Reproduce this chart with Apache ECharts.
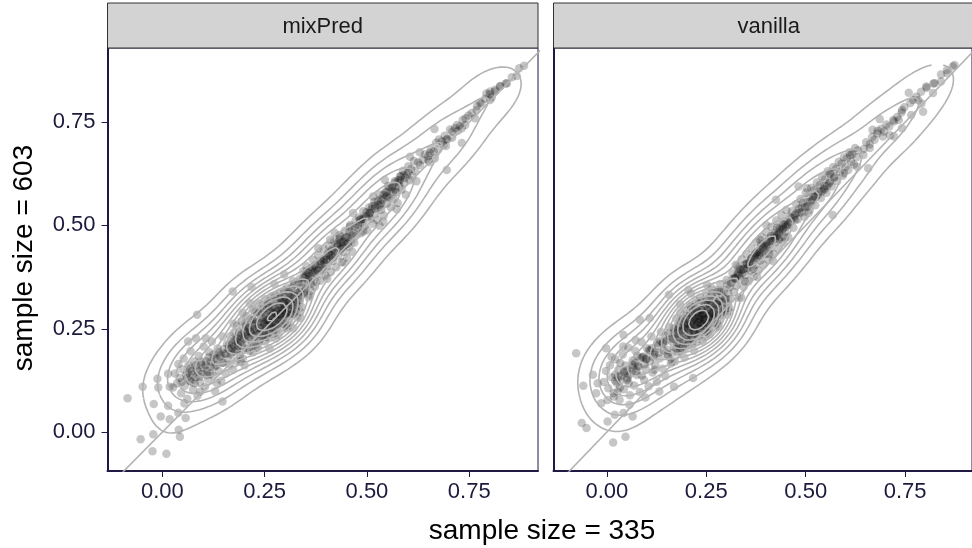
<!DOCTYPE html>
<html><head><meta charset="utf-8">
<script src="https://cdn.jsdelivr.net/npm/echarts@6/dist/echarts.min.js"></script>
<style>html,body{margin:0;padding:0;background:#fff}#c{width:972px;height:548px}</style>
</head><body><div id="c"></div>
<script>
// ---------------- data ----------------
const panelNames = ['mixPred', 'vanilla'];
const xTicks = [0, 0.25, 0.5, 0.75];
const yTicks = [0, 0.25, 0.5, 0.75];
const xTickLabels = ['0.00', '0.25', '0.50', '0.75'];
const yTickLabels = ['0.00', '0.25', '0.50', '0.75'];
const xTitle = 'sample size = 335';
const yTitle = 'sample size = 603';
const ablineSlope = 1;
const ablineIntercept = 0;

const mixPredPoints = [
[-0.085,0.082],[-0.048,0.110],[-0.012,0.129],[-0.010,0.108],[0.014,0.141],[0.018,0.110],[-0.021,0.068],[0.014,0.064],[-0.004,0.038],[0.018,0.031],[0.039,0.047],[0.057,0.034],[0.040,0.006],[0.043,-0.011],[-0.053,-0.017],[-0.022,-0.005],[-0.024,-0.046],[0.010,-0.052],[0.085,0.284],[0.082,0.227],[0.106,0.227],[0.147,0.074],[0.172,0.340],[0.218,0.351],
[0.872,0.880],[0.854,0.858],[0.842,0.844],[0.825,0.836],[0.813,0.828],[0.801,0.824],[0.801,0.803],[0.780,0.795],[0.768,0.779],[0.764,0.759],[0.740,0.743],[0.732,0.735],[0.715,0.735],[0.665,0.733],[0.732,0.699],[0.695,0.707],[0.687,0.695],[0.695,0.634],[0.674,0.683],[0.654,0.675],[0.650,0.658],[0.605,0.666],[0.630,0.646],[0.601,0.630],[0.581,0.610],[0.544,0.610],[0.568,0.586],[0.548,0.570],[0.515,0.570],[0.532,0.545],[0.540,0.509],[0.507,0.530],[0.483,0.514],[0.466,0.530],[0.491,0.485],[0.458,0.497],[0.434,0.473],[0.410,0.465],[0.442,0.449],
[0.031,0.142],[0.036,0.118],[0.039,0.165],[0.043,0.131],[0.046,0.094],[0.049,0.152],[0.052,0.178],[0.055,0.112],[0.058,0.139],[0.061,0.081],[0.064,0.161],[0.067,0.124],[0.069,0.196],[0.072,0.147],[0.075,0.103],[0.078,0.171],[0.081,0.133],[0.084,0.152],[0.086,0.088],[0.089,0.184],[0.092,0.121],[0.095,0.163],[0.098,0.141],[0.101,0.207],[0.104,0.109],[0.107,0.172],[0.109,0.148],[0.112,0.128],[0.115,0.193],[0.118,0.158],[0.121,0.219],[0.124,0.137],[0.127,0.176],[0.129,0.099],[0.132,0.161],[0.135,0.202],[0.138,0.147],[0.141,0.183],[0.144,0.124],[0.147,0.231],[0.149,0.168],[0.152,0.191],[0.155,0.142],[0.158,0.214],[0.161,0.176],[0.047,0.121],[0.062,0.143],[0.079,0.118],[0.093,0.098],[0.117,0.142],[0.063,0.219],[0.026,0.108],[0.054,0.069],[0.133,0.119],
[0.061,0.131],[0.068,0.154],[0.074,0.138],[0.082,0.162],[0.088,0.146],[0.094,0.171],[0.100,0.155],[0.106,0.162],[0.113,0.181],[0.119,0.171],[0.125,0.188],[0.131,0.178],[0.137,0.193],[0.143,0.186],[0.150,0.201],[0.156,0.189],[0.163,0.211],[0.169,0.203],[0.176,0.208],[0.183,0.226],[0.071,0.121],[0.091,0.134],[0.109,0.138],[0.127,0.158],[0.146,0.167],
[0.162,0.201],[0.164,0.163],[0.166,0.232],[0.168,0.188],[0.171,0.214],[0.173,0.151],[0.175,0.241],[0.177,0.196],[0.179,0.221],[0.181,0.172],[0.183,0.258],[0.185,0.209],[0.187,0.234],[0.189,0.186],[0.191,0.217],[0.193,0.268],[0.195,0.228],[0.197,0.199],[0.199,0.246],[0.201,0.162],[0.203,0.234],[0.205,0.281],[0.207,0.215],[0.209,0.252],[0.211,0.229],[0.213,0.196],[0.215,0.271],[0.217,0.241],[0.219,0.218],[0.221,0.296],[0.223,0.256],[0.225,0.232],[0.227,0.273],[0.229,0.205],[0.231,0.249],[0.233,0.312],[0.235,0.265],[0.237,0.238],[0.239,0.287],[0.170,0.193],[0.176,0.222],[0.182,0.199],[0.188,0.241],[0.194,0.209],[0.200,0.226],[0.206,0.243],[0.212,0.251],[0.218,0.236],[0.224,0.261],[0.230,0.238],[0.236,0.251],[0.174,0.262],[0.196,0.289],[0.214,0.312],[0.192,0.171],[0.222,0.193],[0.186,0.216],[0.204,0.256],[0.228,0.291],[0.238,0.222],
[0.241,0.251],[0.243,0.276],[0.245,0.232],[0.247,0.298],[0.249,0.262],[0.251,0.219],[0.253,0.283],[0.255,0.256],[0.257,0.312],[0.259,0.271],[0.261,0.241],[0.263,0.292],[0.265,0.264],[0.267,0.328],[0.269,0.281],[0.271,0.249],[0.273,0.303],[0.275,0.276],[0.277,0.226],[0.279,0.291],[0.281,0.318],[0.283,0.284],[0.285,0.261],[0.287,0.338],[0.289,0.299],[0.291,0.272],[0.293,0.314],[0.295,0.289],[0.297,0.252],[0.299,0.326],[0.301,0.303],[0.303,0.277],[0.305,0.349],[0.307,0.316],[0.309,0.292],[0.311,0.264],[0.313,0.332],[0.315,0.309],[0.317,0.286],[0.319,0.366],[0.321,0.323],[0.323,0.299],[0.325,0.344],[0.327,0.314],[0.329,0.277],[0.331,0.336],[0.333,0.361],[0.335,0.319],[0.337,0.291],[0.339,0.349],
[0.246,0.266],[0.252,0.249],[0.258,0.288],[0.262,0.271],[0.268,0.262],[0.272,0.289],[0.276,0.299],[0.282,0.277],[0.286,0.308],[0.292,0.294],[0.296,0.271],[0.302,0.319],[0.306,0.301],[0.312,0.314],[0.318,0.331],[0.248,0.244],[0.256,0.272],[0.264,0.281],[0.274,0.265],[0.284,0.295],[0.294,0.302],[0.304,0.289],[0.314,0.298],[0.324,0.329],[0.254,0.231],[0.266,0.249],[0.278,0.316],[0.288,0.286],[0.298,0.309],[0.308,0.334],[0.244,0.289],[0.260,0.305],[0.270,0.238],[0.280,0.257],[0.290,0.327],[0.300,0.285],[0.316,0.349],[0.328,0.306],[0.336,0.339],[0.262,0.202],[0.284,0.236],[0.306,0.258],[0.250,0.322],[0.274,0.358],[0.298,0.381],[0.320,0.251],[0.338,0.276],[0.260,0.262],[0.278,0.281],[0.296,0.296],
[0.192,0.236],[0.197,0.178],[0.203,0.262],[0.208,0.201],[0.214,0.244],[0.219,0.274],[0.223,0.212],[0.227,0.249],[0.232,0.291],[0.236,0.223],[0.241,0.268],[0.245,0.306],[0.249,0.238],[0.253,0.271],[0.258,0.228],[0.262,0.317],[0.266,0.255],[0.271,0.286],[0.275,0.331],[0.279,0.246],[0.284,0.272],[0.288,0.324],[0.292,0.262],[0.297,0.343],[0.301,0.286],[0.305,0.251],[0.309,0.338],[0.314,0.283],[0.318,0.306],[0.322,0.358],[0.327,0.292],[0.331,0.319],[0.336,0.371],[0.341,0.302],[0.345,0.336],[0.352,0.388],[0.357,0.326],[0.363,0.359],[0.205,0.231],[0.226,0.266],[0.247,0.254],[0.268,0.301],[0.289,0.281],[0.310,0.319],[0.234,0.204],[0.256,0.301],[0.276,0.262],[0.298,0.318],[0.320,0.286],[0.339,0.331],
[0.341,0.362],[0.344,0.389],[0.347,0.341],[0.349,0.376],[0.352,0.402],[0.355,0.359],[0.357,0.384],[0.360,0.331],[0.362,0.393],[0.365,0.371],[0.368,0.417],[0.370,0.386],[0.373,0.352],[0.375,0.404],[0.378,0.382],[0.381,0.428],[0.383,0.397],[0.386,0.366],[0.388,0.414],[0.391,0.391],[0.394,0.442],[0.396,0.408],[0.399,0.379],[0.401,0.426],[0.404,0.402],[0.407,0.451],[0.409,0.419],[0.412,0.387],[0.414,0.438],[0.417,0.414],[0.420,0.462],[0.422,0.431],[0.425,0.399],[0.427,0.448],[0.430,0.427],[0.433,0.476],[0.435,0.442],[0.438,0.411],[0.440,0.459],[0.443,0.436],[0.446,0.487],[0.448,0.453],[0.451,0.422],[0.453,0.471],[0.456,0.448],[0.459,0.501],[0.461,0.464],[0.464,0.436],[0.466,0.482],[0.469,0.458],[0.472,0.511],[0.474,0.476],
[0.356,0.371],[0.366,0.398],[0.376,0.363],[0.386,0.406],[0.396,0.418],[0.406,0.434],[0.416,0.421],[0.426,0.456],[0.436,0.444],[0.446,0.468],[0.351,0.346],[0.373,0.391],[0.393,0.396],[0.413,0.427],[0.433,0.466],[0.453,0.456],[0.363,0.342],[0.403,0.371],[0.443,0.411],[0.381,0.445],[0.421,0.482],
[0.345,0.373],[0.352,0.379],[0.359,0.377],[0.366,0.388],[0.373,0.401],[0.380,0.392],[0.387,0.413],[0.394,0.416],[0.401,0.417],[0.408,0.429],[0.415,0.442],[0.422,0.439],[0.429,0.454],[0.436,0.458],[0.443,0.461],[0.450,0.472],[0.457,0.484],[0.464,0.476],[0.471,0.497],[0.478,0.501],[0.485,0.514],[0.492,0.515],[0.499,0.532],[0.506,0.530],[0.513,0.547],[0.520,0.548],[0.527,0.559],[0.534,0.564],[0.541,0.574],[0.548,0.580],[0.555,0.592],[0.562,0.594],[0.569,0.604],[0.576,0.609],[0.583,0.619],[0.590,0.622],
[0.478,0.494],[0.481,0.519],[0.485,0.481],[0.488,0.507],[0.491,0.534],[0.495,0.499],[0.498,0.523],[0.501,0.488],[0.505,0.543],[0.508,0.516],[0.511,0.539],[0.515,0.504],[0.518,0.557],[0.521,0.529],[0.525,0.513],[0.528,0.549],[0.531,0.575],[0.535,0.538],[0.538,0.562],[0.541,0.524],[0.545,0.580],[0.548,0.553],[0.551,0.595],[0.555,0.567],[0.558,0.544],[0.561,0.589],[0.565,0.563],[0.568,0.607],[0.571,0.580],[0.575,0.554],[0.578,0.603],[0.581,0.619],[0.585,0.587],[0.588,0.632],[0.591,0.604],[0.595,0.574],[0.598,0.623],[0.601,0.643],[0.605,0.609],[0.608,0.637],[0.611,0.619],[0.615,0.656],[0.618,0.632],[0.621,0.607],[0.625,0.652],
[0.490,0.516],[0.504,0.522],[0.519,0.540],[0.534,0.553],[0.550,0.572],[0.564,0.582],[0.579,0.594],[0.593,0.615],[0.531,0.499],[0.573,0.539],
[0.636,0.659],[0.642,0.672],[0.650,0.668],[0.656,0.685],[0.663,0.679],[0.669,0.700],[0.676,0.708],[0.683,0.703],[0.690,0.717],[0.696,0.709],[0.703,0.732],[0.709,0.727],[0.720,0.743],[0.727,0.739],[0.734,0.755],[0.741,0.759],[0.756,0.772],[0.769,0.788],[0.776,0.797],[0.789,0.806],[0.800,0.817],[0.813,0.824],[0.826,0.837],[0.839,0.843],[0.884,0.886],[0.866,0.861],[0.652,0.653],[0.666,0.662],[0.693,0.692],[0.629,0.677],[0.708,0.712],[0.722,0.729],[0.748,0.766],[0.792,0.819],[0.805,0.810]
];

const vanillaPoints = [
[-0.077,0.191],[-0.002,0.203],[-0.059,0.112],[-0.035,0.139],[-0.023,0.118],[-0.027,0.094],[-0.014,0.070],[0.002,0.078],[0.018,0.086],[-0.063,0.022],[-0.051,0.010],[0.002,0.026],[0.020,0.042],[0.042,0.046],[0.065,0.038],[0.047,-0.011],[0.016,-0.025],[0.042,0.235],[0.083,0.272],[0.108,0.276],[0.156,0.332],[0.205,0.344],[0.169,0.110],[0.217,0.131],[0.132,0.098],
[0.870,0.884],[0.856,0.868],[0.840,0.848],[0.824,0.844],[0.803,0.836],[0.759,0.821],[0.820,0.820],[0.791,0.795],[0.783,0.803],[0.795,0.775],[0.742,0.779],[0.765,0.767],[0.722,0.751],[0.734,0.755],[0.686,0.757],[0.742,0.735],[0.722,0.715],[0.681,0.729],[0.694,0.715],[0.661,0.687],[0.645,0.670],[0.657,0.638],[0.612,0.670],[0.629,0.642],[0.596,0.626],[0.572,0.618],[0.560,0.626],[0.482,0.594],[0.503,0.590],[0.425,0.562],[0.547,0.586],[0.568,0.525],[0.523,0.570],[0.507,0.530],[0.474,0.513],[0.450,0.497],[0.401,0.501],[0.385,0.465],[0.433,0.465],[0.377,0.433],
[-0.008,0.121],[-0.002,0.148],[0.004,0.106],[0.008,0.162],[0.013,0.133],[0.017,0.094],[0.021,0.176],[0.025,0.119],[0.029,0.151],[0.032,0.078],[0.036,0.136],[0.040,0.188],[0.043,0.104],[0.047,0.161],[0.051,0.126],[0.054,0.204],[0.058,0.089],[0.062,0.147],[0.065,0.173],[0.069,0.113],[0.072,0.196],[0.076,0.138],[0.080,0.158],[0.083,0.097],[0.087,0.218],[0.090,0.181],[0.094,0.126],[0.098,0.153],[0.101,0.203],[0.105,0.111],[0.108,0.171],[0.112,0.231],[0.115,0.144],[0.119,0.188],[0.122,0.162],[0.126,0.122],[0.129,0.210],[0.133,0.178],[0.136,0.242],[0.140,0.153],[0.143,0.197],[0.147,0.136],[0.150,0.221],[0.154,0.183],[0.157,0.254],[0.161,0.166],[0.021,0.139],[0.034,0.167],[0.045,0.143],[0.055,0.119],[0.066,0.156],[0.077,0.184],[0.088,0.137],[0.099,0.176],[0.109,0.197],[0.120,0.151],[0.131,0.192],[0.141,0.214],[0.152,0.199],[0.027,0.098],[0.057,0.066],[0.072,0.223],[0.097,0.084],[0.041,0.207],[0.012,0.182],
[0.021,0.124],[0.028,0.133],[0.035,0.125],[0.043,0.146],[0.050,0.149],[0.057,0.139],[0.064,0.163],[0.071,0.167],[0.078,0.160],[0.085,0.179],[0.092,0.183],[0.099,0.178],[0.106,0.198],[0.113,0.203],[0.120,0.194],[0.127,0.216],[0.134,0.221],[0.141,0.217],[0.148,0.234],[0.155,0.239],[0.033,0.108],[0.052,0.131],[0.074,0.148],[0.095,0.164],[0.117,0.181],
[0.163,0.191],[0.165,0.226],[0.167,0.252],[0.169,0.207],[0.171,0.171],[0.173,0.238],[0.175,0.274],[0.177,0.215],[0.179,0.192],[0.181,0.256],[0.183,0.229],[0.185,0.289],[0.187,0.203],[0.189,0.245],[0.191,0.267],[0.193,0.219],[0.195,0.181],[0.197,0.256],[0.199,0.296],[0.201,0.234],[0.203,0.274],[0.205,0.211],[0.207,0.251],[0.209,0.307],[0.211,0.265],[0.213,0.228],[0.215,0.283],[0.217,0.244],[0.219,0.197],[0.221,0.273],[0.223,0.317],[0.225,0.257],[0.227,0.292],[0.229,0.234],[0.231,0.275],[0.233,0.250],[0.235,0.326],[0.237,0.285],[0.239,0.262],[0.241,0.220],[0.243,0.301],[0.245,0.274],[0.247,0.247],[0.249,0.337],[0.251,0.292],[0.253,0.264],[0.255,0.312],[0.257,0.281],[0.259,0.237],[0.261,0.306],[0.263,0.349],[0.265,0.287],[0.267,0.265],[0.269,0.322],[0.271,0.296],[0.273,0.251],[0.275,0.309],[0.277,0.339],[0.279,0.284],[0.281,0.318],[0.283,0.272],[0.285,0.358],[0.287,0.302],[0.289,0.328],[0.291,0.285],[0.293,0.313],[0.295,0.343],[0.297,0.298],[0.299,0.324],[0.301,0.368],[0.303,0.311],[0.305,0.336],[0.307,0.293],[0.309,0.351],[0.311,0.322],
[0.188,0.232],[0.194,0.251],[0.200,0.263],[0.206,0.239],[0.210,0.255],[0.214,0.268],[0.218,0.261],[0.220,0.241],[0.224,0.279],[0.226,0.250],[0.228,0.266],[0.230,0.291],[0.234,0.274],[0.236,0.258],[0.238,0.296],[0.240,0.279],[0.244,0.264],[0.246,0.288],[0.248,0.309],[0.250,0.272],[0.254,0.298],[0.256,0.279],[0.258,0.321],[0.260,0.287],[0.264,0.275],[0.268,0.302],[0.274,0.291],[0.280,0.307],[0.286,0.292],[0.208,0.281],[0.216,0.224],[0.198,0.225],[0.204,0.260],[0.222,0.289],[0.232,0.237],[0.242,0.285],[0.252,0.254],[0.262,0.331],[0.272,0.278],[0.282,0.342],[0.192,0.274],[0.212,0.304],[0.240,0.318],[0.182,0.214],[0.176,0.247],[0.170,0.226],[0.198,0.204],[0.226,0.217],[0.256,0.245],[0.278,0.262],[0.302,0.284],[0.184,0.309],[0.212,0.335],[0.252,0.356],[0.232,0.266],[0.218,0.248],[0.244,0.271],
[0.152,0.188],[0.158,0.224],[0.164,0.171],[0.169,0.241],[0.175,0.201],[0.181,0.236],[0.186,0.268],[0.191,0.209],[0.196,0.247],[0.201,0.282],[0.206,0.221],[0.211,0.261],[0.216,0.298],[0.221,0.236],[0.226,0.269],[0.231,0.311],[0.236,0.249],[0.241,0.284],[0.246,0.231],[0.251,0.318],[0.256,0.262],[0.261,0.296],[0.266,0.336],[0.271,0.274],[0.276,0.309],[0.281,0.256],[0.286,0.341],[0.291,0.291],[0.297,0.322],[0.303,0.356],[0.308,0.301],[0.189,0.248],[0.208,0.239],[0.219,0.276],[0.228,0.258],[0.238,0.296],[0.248,0.268],[0.258,0.311],[0.268,0.289],[0.198,0.264],[0.213,0.281],[0.233,0.281],[0.243,0.255],[0.263,0.279],[0.178,0.254],[0.223,0.298],[0.253,0.241],[0.283,0.318],[0.184,0.196],[0.214,0.214],
[0.313,0.361],[0.316,0.384],[0.319,0.339],[0.321,0.371],[0.324,0.405],[0.326,0.354],[0.329,0.381],[0.331,0.325],[0.334,0.394],[0.336,0.369],[0.339,0.418],[0.341,0.385],[0.344,0.351],[0.346,0.404],[0.349,0.380],[0.351,0.431],[0.354,0.397],[0.356,0.365],[0.359,0.414],[0.361,0.391],[0.364,0.444],[0.366,0.409],[0.369,0.377],[0.371,0.427],[0.374,0.404],[0.376,0.459],[0.379,0.421],[0.381,0.391],[0.384,0.441],[0.386,0.415],[0.389,0.472],[0.391,0.434],[0.394,0.405],[0.396,0.454],[0.399,0.431],[0.401,0.484],[0.404,0.449],[0.406,0.417],[0.409,0.469],[0.411,0.444],[0.414,0.497],[0.416,0.462],[0.419,0.431],[0.421,0.481],[0.424,0.459],[0.426,0.512],[0.429,0.475],[0.431,0.444],[0.434,0.494],[0.436,0.471],[0.439,0.525],[0.441,0.489],[0.444,0.459],[0.446,0.508],[0.449,0.485],[0.451,0.537],[0.454,0.501],[0.456,0.472],[0.459,0.521],
[0.323,0.374],[0.333,0.379],[0.343,0.394],[0.353,0.407],[0.363,0.420],[0.373,0.431],[0.383,0.427],[0.393,0.445],[0.403,0.460],[0.413,0.475],[0.423,0.469],[0.433,0.484],[0.443,0.502],[0.328,0.401],[0.348,0.364],[0.368,0.395],[0.388,0.454],[0.408,0.431],[0.428,0.494],[0.448,0.471],[0.338,0.325],[0.378,0.375],[0.418,0.414],
[0.316,0.371],[0.323,0.372],[0.330,0.386],[0.337,0.391],[0.344,0.395],[0.351,0.407],[0.358,0.409],[0.365,0.421],[0.372,0.424],[0.379,0.436],[0.386,0.435],[0.393,0.449],[0.400,0.451],[0.407,0.463],[0.414,0.463],[0.421,0.477],[0.428,0.476],[0.435,0.491],[0.442,0.491],[0.449,0.504],[0.456,0.503],[0.463,0.517],[0.470,0.518],[0.477,0.530],[0.484,0.531],[0.491,0.543],[0.498,0.544],[0.505,0.556],[0.512,0.557],[0.519,0.569],[0.526,0.569],[0.533,0.582],[0.540,0.582],[0.547,0.595],[0.554,0.595],[0.561,0.606],
[0.462,0.509],[0.466,0.534],[0.469,0.494],[0.473,0.525],[0.476,0.551],[0.480,0.515],[0.483,0.540],[0.487,0.564],[0.490,0.531],[0.493,0.555],[0.497,0.521],[0.500,0.579],[0.504,0.546],[0.507,0.570],[0.510,0.537],[0.514,0.591],[0.517,0.561],[0.521,0.585],[0.524,0.549],[0.528,0.604],[0.531,0.574],[0.535,0.597],[0.538,0.566],[0.541,0.617],[0.545,0.589],[0.548,0.611],[0.552,0.579],[0.555,0.631],[0.559,0.602],[0.562,0.624],[0.565,0.594],[0.569,0.641],[0.572,0.615],[0.576,0.637],[0.579,0.607],[0.583,0.654],[0.586,0.629],[0.590,0.649],[0.593,0.620],[0.596,0.665],[0.600,0.641],[0.603,0.661],[0.607,0.634],[0.610,0.677],[0.614,0.654],[0.617,0.672],[0.621,0.647],[0.624,0.687],[0.628,0.665],[0.631,0.682],
[0.646,0.685],[0.652,0.701],[0.661,0.696],[0.667,0.714],[0.673,0.707],[0.680,0.722],[0.690,0.734],[0.697,0.727],[0.703,0.744],[0.710,0.739],[0.720,0.755],[0.730,0.762],[0.741,0.773],[0.748,0.786],[0.763,0.796],[0.770,0.803],[0.778,0.811],[0.790,0.823],[0.804,0.833],[0.821,0.843],[0.840,0.865],[0.855,0.876],[0.874,0.888],[0.668,0.731],[0.712,0.718]
];

// density-contour settings (stat_density_2d: bandwidth.nrd scaled by adjust, pretty(range, 10) breaks)
const bandwidthAdjust = 0.85;
const contourBins = 10;

// ---------------- layout / style ----------------
const XMIN = -0.134, XMAX = 0.918, YMIN = -0.094, YMAX = 0.929;
const AXIS_COL = '#1f1a44';
const TXT_COL = '#1c1a3c';
const FONT = '"Liberation Sans", Arial, Helvetica, sans-serif';
const panels = [
  {name: panelNames[0], pts: mixPredPoints, left: 107.5},
  {name: panelNames[1], pts: vanillaPoints, left: 553.5}
];
const PW = 430.5, PTOP = 48, PH = 423;

// ---------------- 2D KDE (MASS::kde2d + bandwidth.nrd) ----------------
function q7(s, p) { const h = (s.length - 1) * p, lo = Math.floor(h), hi = Math.min(lo + 1, s.length - 1); return s[lo] + (h - lo) * (s[hi] - s[lo]); }
function bwNrd(v) {
  const s = v.slice().sort((a, b) => a - b);
  const iqr = (q7(s, 0.75) - q7(s, 0.25)) / 1.34;
  const m = v.reduce((a, b) => a + b, 0) / v.length;
  const sd = Math.sqrt(v.reduce((a, b) => a + (b - m) * (b - m), 0) / (v.length - 1));
  return 4 * 1.06 * Math.min(sd, iqr) * Math.pow(v.length, -0.2);
}
function kde2d(xs, ys, n) {
  const hx = bandwidthAdjust * bwNrd(xs) / 4, hy = bandwidthAdjust * bwNrd(ys) / 4;
  const x0 = Math.min(...xs), x1 = Math.max(...xs), y0 = Math.min(...ys), y1 = Math.max(...ys);
  const gx = [], gy = [];
  for (let i = 0; i < n; i++) { gx.push(x0 + (x1 - x0) * i / (n - 1)); gy.push(y0 + (y1 - y0) * i / (n - 1)); }
  const z = []; for (let i = 0; i < n; i++) z.push(new Float64Array(n));
  const c = 1 / Math.sqrt(2 * Math.PI);
  const ax = new Float64Array(n), ay = new Float64Array(n);
  for (let k = 0; k < xs.length; k++) {
    for (let i = 0; i < n; i++) { const u = (gx[i] - xs[k]) / hx; ax[i] = c * Math.exp(-u * u / 2); }
    for (let j = 0; j < n; j++) { const u = (gy[j] - ys[k]) / hy; ay[j] = c * Math.exp(-u * u / 2); }
    for (let i = 0; i < n; i++) { if (ax[i] < 1e-12) continue; const zi = z[i], a = ax[i]; for (let j = 0; j < n; j++) zi[j] += a * ay[j]; }
  }
  const norm = xs.length * hx * hy;
  let zmin = Infinity, zmax = -Infinity;
  for (let i = 0; i < n; i++) for (let j = 0; j < n; j++) { z[i][j] /= norm; zmin = Math.min(zmin, z[i][j]); zmax = Math.max(zmax, z[i][j]); }
  return {gx, gy, z, zmin, zmax};
}
function pretty(lo, hi, ndiv) {
  const dx = hi - lo, cell = dx / ndiv;
  const U = Math.pow(10, Math.floor(Math.log10(cell)));
  const h = 1.5, h5 = 0.5 + 1.5 * h;
  let unit = U;
  if (2 * U - cell < h * (cell - unit)) { unit = 2 * U; if (5 * U - cell < h5 * (cell - unit)) { unit = 5 * U; if (10 * U - cell < h * (cell - unit)) unit = 10 * U; } }
  const ns = Math.floor(lo / unit + 1e-7), nu = Math.ceil(hi / unit - 1e-7);
  const out = []; for (let k = ns; k <= nu; k++) out.push(k * unit); return out;
}
function contourLines(gx, gy, z, level) {
  const nx = gx.length, ny = gy.length, pts = {}, segs = [];
  function ep(key, xa, ya, za, xb, yb, zb) {
    if (!(key in pts)) { const t = (level - za) / (zb - za); pts[key] = [xa + t * (xb - xa), ya + t * (yb - ya)]; }
    return key;
  }
  for (let i = 0; i < nx - 1; i++) for (let j = 0; j < ny - 1; j++) {
    const a = z[i][j], b = z[i + 1][j], c = z[i + 1][j + 1], d = z[i][j + 1];
    const A = a > level, B = b > level, C = c > level, D = d > level;
    const e = [];
    if (A !== B) e.push(ep('h' + i + '_' + j, gx[i], gy[j], a, gx[i + 1], gy[j], b));
    if (B !== C) e.push(ep('v' + (i + 1) + '_' + j, gx[i + 1], gy[j], b, gx[i + 1], gy[j + 1], c));
    if (D !== C) e.push(ep('h' + i + '_' + (j + 1), gx[i], gy[j + 1], d, gx[i + 1], gy[j + 1], c));
    if (A !== D) e.push(ep('v' + i + '_' + j, gx[i], gy[j], a, gx[i], gy[j + 1], d));
    if (e.length === 2) segs.push([e[0], e[1]]);
    else if (e.length === 4) {
      const center = (a + b + c + d) / 4;
      if ((center > level) === A) { segs.push([e[0], e[1]]); segs.push([e[2], e[3]]); }
      else { segs.push([e[0], e[3]]); segs.push([e[1], e[2]]); }
    }
  }
  const adj = {};
  segs.forEach((s, idx) => { (adj[s[0]] = adj[s[0]] || []).push(idx); (adj[s[1]] = adj[s[1]] || []).push(idx); });
  const used = new Array(segs.length).fill(false);
  const lines = [];
  function extend(chain, atEnd) {
    while (true) {
      const key = atEnd ? chain[chain.length - 1] : chain[0];
      const cand = (adj[key] || []).find(k => !used[k]);
      if (cand === undefined) break;
      used[cand] = true;
      const s = segs[cand], other = s[0] === key ? s[1] : s[0];
      if (atEnd) chain.push(other); else chain.unshift(other);
    }
  }
  for (let k = 0; k < segs.length; k++) {
    if (used[k]) continue;
    used[k] = true;
    const chain = [segs[k][0], segs[k][1]];
    extend(chain, true); extend(chain, false);
    lines.push(chain.map(key => pts[key]));
  }
  return lines;
}

// ---------------- build option ----------------
const grid = [], xAxis = [], yAxis = [], series = [], graphic = [];
panels.forEach((p, k) => {
  grid.push({left: p.left, top: PTOP, width: PW, height: PH, show: true, borderColor: AXIS_COL, borderWidth: 1, backgroundColor: '#fff'});
  xAxis.push({
    type: 'value', gridIndex: k, min: XMIN, max: XMAX,
    axisLine: {show: true, onZero: false, lineStyle: {color: AXIS_COL, width: 2}},
    axisTick: {show: true, length: 6, customValues: xTicks, lineStyle: {color: AXIS_COL, width: 1}},
    axisLabel: {show: true, customValues: xTicks, margin: 10, fontSize: 22, color: TXT_COL, fontFamily: FONT,
      formatter: v => xTickLabels[xTicks.findIndex(t => Math.abs(t - v) < 1e-9)]},
    splitLine: {show: false}
  });
  yAxis.push({
    type: 'value', gridIndex: k, min: YMIN, max: YMAX,
    axisLine: {show: true, onZero: false, lineStyle: {color: AXIS_COL, width: 2}},
    axisTick: {show: k === 0, length: 6, customValues: yTicks, lineStyle: {color: AXIS_COL, width: 1}},
    axisLabel: {show: k === 0, customValues: yTicks, margin: 12, fontSize: 22, color: TXT_COL, fontFamily: FONT,
      formatter: v => yTickLabels[yTicks.findIndex(t => Math.abs(t - v) < 1e-9)]},
    splitLine: {show: false}
  });
  series.push({
    type: 'scatter', xAxisIndex: k, yAxisIndex: k, data: p.pts, symbol: 'circle', symbolSize: 8.5,
    itemStyle: {color: 'rgba(0,0,0,0.28)'}, z: 2, silent: true, large: false
  });
  const xs = p.pts.map(d => d[0]), ys = p.pts.map(d => d[1]);
  const kd = kde2d(xs, ys, 100);
  const levels = pretty(kd.zmin, kd.zmax, contourBins);
  levels.forEach(lv => {
    if (lv <= kd.zmin || lv >= kd.zmax) return;
    contourLines(kd.gx, kd.gy, kd.z, lv).forEach(line => {
      series.push({type: 'line', xAxisIndex: k, yAxisIndex: k, data: line, showSymbol: false, symbol: 'none',
        lineStyle: {color: '#b3b3b3', width: 1.6}, z: 3, silent: true});
    });
  });
  series.push({type: 'line', xAxisIndex: k, yAxisIndex: k, showSymbol: false, symbol: 'none', clip: true,
    data: [[XMIN - 0.2, ablineSlope * (XMIN - 0.2) + ablineIntercept], [XMAX + 0.2, ablineSlope * (XMAX + 0.2) + ablineIntercept]],
    lineStyle: {color: '#b3b3b3', width: 1.6}, z: 4, silent: true});
  graphic.push({type: 'rect', shape: {x: p.left, y: 3, width: PW, height: PTOP - 3}, style: {fill: '#d3d3d3', stroke: '#333333', lineWidth: 1}, z: 10});
  graphic.push({type: 'text', x: p.left + PW / 2, y: (3 + PTOP) / 2 + 1, style: {text: p.name, fill: '#1a1a1a', font: '22px ' + FONT, textAlign: 'center', textVerticalAlign: 'middle'}, z: 11});
});
graphic.push({type: 'text', x: 542, y: 531, style: {text: xTitle, fill: '#000', font: '28px ' + FONT, textAlign: 'center', textVerticalAlign: 'middle'}});
graphic.push({type: 'text', x: 24, y: 258, rotation: Math.PI / 2, style: {text: yTitle, fill: '#000', font: '28px ' + FONT, textAlign: 'center', textVerticalAlign: 'middle'}});

const chart = echarts.init(document.getElementById('c'), null, {renderer: 'canvas'});
chart.setOption({animation: false, backgroundColor: '#fff', grid, xAxis, yAxis, series, graphic});
</script>
</body></html>
